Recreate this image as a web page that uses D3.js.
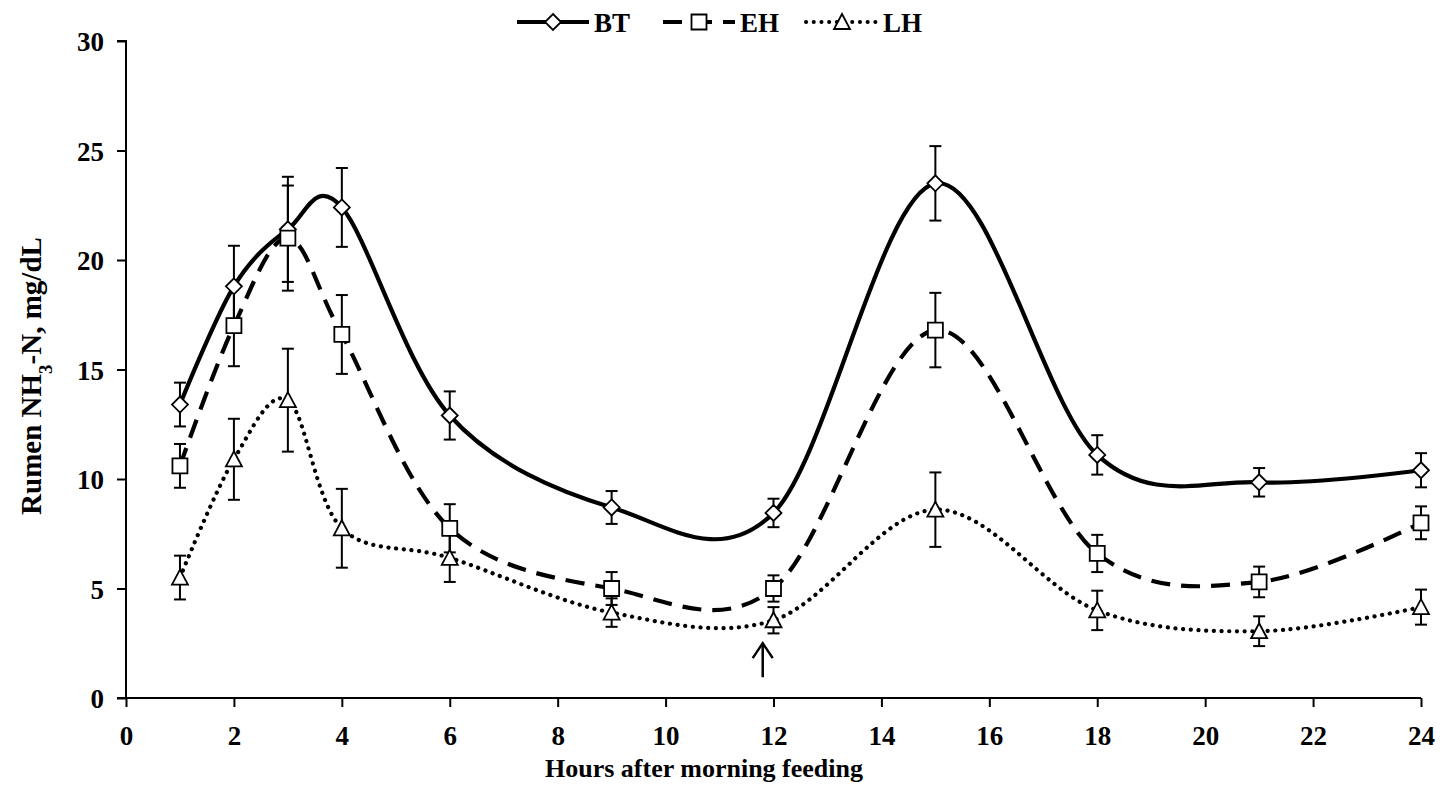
<html>
<head>
<meta charset="utf-8">
<title>Rumen NH3-N</title>
<script src="https://cdn.jsdelivr.net/npm/d3@7"></script>
<style>
body { margin: 0; background: #fff; }
text { font-family: "Liberation Serif", "Times New Roman", serif; font-weight: bold; fill: #000; }
</style>
</head>
<body>
<svg width="1442" height="785"></svg>
<script>
// hours after feeding and the three treatments (mean and SE)
var hours = [1, 2, 3, 4, 6, 9, 12, 15, 18, 21, 24];
var BT = [13.4, 18.8, 21.4, 22.4, 12.9, 8.7, 8.45, 23.5, 11.1, 9.85, 10.4];
var BTse = [1.0, 1.85, 2.4, 1.8, 1.1, 0.75, 0.65, 1.7, 0.9, 0.65, 0.78];
var EH = [10.6, 17.0, 21.0, 16.6, 7.75, 5.0, 5.0, 16.8, 6.6, 5.3, 8.0];
var EHse = [1.0, 1.85, 2.4, 1.8, 1.1, 0.75, 0.6, 1.7, 0.85, 0.7, 0.75];
var LH = [5.5, 10.9, 13.6, 7.75, 6.4, 3.9, 3.55, 8.6, 4.0, 3.05, 4.15];
var LHse = [1.0, 1.85, 2.35, 1.8, 1.1, 0.65, 0.6, 1.7, 0.9, 0.68, 0.8];
var seriesNames = ["BT", "EH", "LH"];
var xTicks = [0, 2, 4, 6, 8, 10, 12, 14, 16, 18, 20, 22, 24];
var yTicks = [0, 5, 10, 15, 20, 25, 30];
var arrowHour = 11.8, arrowFrom = 0.95, arrowTo = 2.55;

var svg = d3.select("svg");
var x = d3.scaleLinear().domain([0, 24]).range([126, 1421]);
var y = d3.scaleLinear().domain([0, 30]).range([698, 41]);

var series = [
  {name: "BT", mean: BT, se: BTse, dash: null, cap: "butt", marker: "diamond"},
  {name: "EH", mean: EH, se: EHse, dash: "19,11", cap: "butt", marker: "square"},
  {name: "LH", mean: LH, se: LHse, dash: "0.1,7.6", cap: "round", marker: "triangle"}
];

// axes
var yAxis = svg.append("g")
  .attr("transform", "translate(126,0)")
  .call(d3.axisLeft(y).tickValues(yTicks).tickSize(9).tickPadding(13).tickFormat(d3.format("d")));
var xAxis = svg.append("g")
  .attr("transform", "translate(0,698)")
  .call(d3.axisBottom(x).tickValues(xTicks).tickSize(9).tickPadding(19).tickFormat(d3.format("d")));
svg.selectAll(".domain").attr("stroke", "#000").attr("stroke-width", 2);
svg.selectAll(".tick line").attr("stroke", "#000").attr("stroke-width", 2);
yAxis.selectAll(".domain").attr("d", "M-9,41H0V698");
yAxis.selectAll("text").style("font-size", "27px").attr("dy", "0.36em");
xAxis.selectAll(".domain").attr("d", "M117,0H1421");
xAxis.selectAll("text").style("font-size", "27px");

// axis titles
svg.append("text")
  .attr("x", 704).attr("y", 777)
  .attr("text-anchor", "middle")
  .style("font-size", "26px")
  .text("Hours after morning feeding");

var yt = svg.append("text")
  .attr("transform", "translate(41,376) rotate(-90)")
  .attr("text-anchor", "middle")
  .style("font-size", "29px");
yt.append("tspan").text("Rumen NH");
yt.append("tspan").attr("baseline-shift", "sub").style("font-size", "19px").text("3");
yt.append("tspan").text("-N, mg/dL");

// error bars
series.forEach(function(s) {
  var g = svg.append("g").attr("stroke", "#000").attr("stroke-width", 2);
  hours.forEach(function(h, i) {
    var cx = x(h), top = y(s.mean[i] + s.se[i]), bot = y(s.mean[i] - s.se[i]);
    g.append("line").attr("x1", cx).attr("x2", cx).attr("y1", top).attr("y2", bot);
    g.append("line").attr("x1", cx - 6).attr("x2", cx + 6).attr("y1", top).attr("y2", top);
    g.append("line").attr("x1", cx - 6).attr("x2", cx + 6).attr("y1", bot).attr("y2", bot);
  });
});

// smoothed lines
var line = d3.line().curve(d3.curveCardinal.tension(0));
series.forEach(function(s) {
  var pts = hours.map(function(h, i) { return [x(h), y(s.mean[i])]; });
  svg.append("path")
    .attr("d", line(pts))
    .attr("fill", "none")
    .attr("stroke", "#000")
    .attr("stroke-width", 4.2)
    .attr("stroke-linecap", s.cap)
    .attr("stroke-dasharray", s.dash);
});

function marker(g, type, cx, cy) {
  var p;
  if (type === "diamond") p = [[cx, cy - 8], [cx + 8, cy], [cx, cy + 8], [cx - 8, cy]];
  else if (type === "square") p = [[cx - 7.5, cy - 7.5], [cx + 7.5, cy - 7.5], [cx + 7.5, cy + 7.5], [cx - 7.5, cy + 7.5]];
  else p = [[cx, cy - 8], [cx + 8, cy + 7], [cx - 8, cy + 7]];
  g.append("polygon")
    .attr("points", p.map(function(d) { return d.join(","); }).join(" "))
    .attr("fill", "#fff").attr("stroke", "#000").attr("stroke-width", 1.8);
}

series.forEach(function(s) {
  var g = svg.append("g");
  hours.forEach(function(h, i) { marker(g, s.marker, x(h), y(s.mean[i])); });
});

// arrow at the evening feeding
var ax = x(arrowHour);
svg.append("line").attr("x1", ax).attr("x2", ax).attr("y1", y(arrowFrom)).attr("y2", y(arrowTo) + 1)
  .attr("stroke", "#000").attr("stroke-width", 2.5);
svg.append("path")
  .attr("d", "M" + (ax - 10) + "," + (y(arrowTo) + 16) + "L" + ax + "," + (y(arrowTo) + 1) + "L" + (ax + 10) + "," + (y(arrowTo) + 16))
  .attr("fill", "none").attr("stroke", "#000").attr("stroke-width", 2.5);

// legend
var legX = [517, 663, 806];
var leg = svg.append("g");
series.forEach(function(s, i) {
  var lx = legX[i], ly = 22;
  leg.append("line")
    .attr("x1", lx).attr("x2", lx + 72).attr("y1", ly).attr("y2", ly)
    .attr("stroke", "#000").attr("stroke-width", 4)
    .attr("stroke-linecap", s.cap)
    .attr("stroke-dasharray", s.dash);
  marker(leg, s.marker, lx + 36, ly);
  leg.append("text").attr("x", lx + 77).attr("y", ly + 10)
    .style("font-size", "27px").text(seriesNames[i]);
});
</script>
</body>
</html>
